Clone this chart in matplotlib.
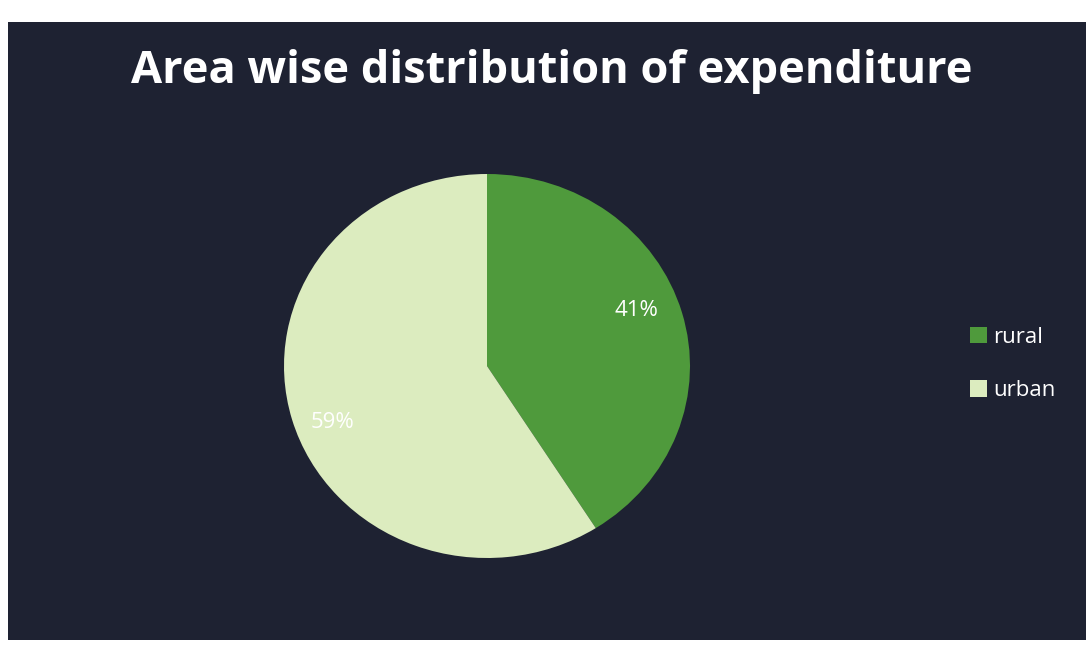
import matplotlib.pyplot as plt
from matplotlib.patches import Rectangle

# data
areas = ['rural', 'urban']
shares = [41, 59]
colors = ['#4f9a3c', '#dcecbf']

W, H = 1086, 658
fig = plt.figure(figsize=(W / 100, H / 100), dpi=100, facecolor='white')

# dark slide background inside the photo margin
fig.patches.append(Rectangle((8 / W, 1 - 640 / H), 1 - 8 / W, (640 - 22) / H,
                             transform=fig.transFigure, facecolor='#1e2232',
                             edgecolor='none', zorder=-5))

fig.text(552 / W, 1 - 72 / H, 'Area wise distribution of expenditure',
         ha='center', va='center', color='white', fontsize=32.5,
         fontweight='bold', family='Open Sans')

# photo is slightly stretched, so the pie is a little wider than tall
rx, ry = 203, 192
ax = fig.add_axes([(487 - rx) / W, 1 - (366 + ry) / H, 2 * rx / W, 2 * ry / H])
ax.patch.set_visible(False)
wedges, _ = ax.pie(shares, colors=colors, startangle=90, counterclock=False,
                   wedgeprops=dict(linewidth=0))
ax.set_aspect('auto')
ax.set_xlim(-1, 1)
ax.set_ylim(-1, 1)
ax.axis('off')

fig.text(636 / W, 1 - 311 / H, '41%', ha='center', va='center',
         color='white', fontsize=16, family='Open Sans')
fig.text(333 / W, 1 - 422 / H, '59%', ha='center', va='center',
         color='white', fontsize=16, family='Open Sans')

leg = fig.legend(wedges, areas, loc='center left',
                 bbox_to_anchor=(950 / W, 1 - 364 / H), frameon=False,
                 labelcolor='white', prop={'family': 'Open Sans', 'size': 16},
                 handlelength=0.75, handleheight=0.75, handletextpad=0.3,
                 labelspacing=1.45)

fig.savefig('out.png', dpi=100, facecolor='white')
